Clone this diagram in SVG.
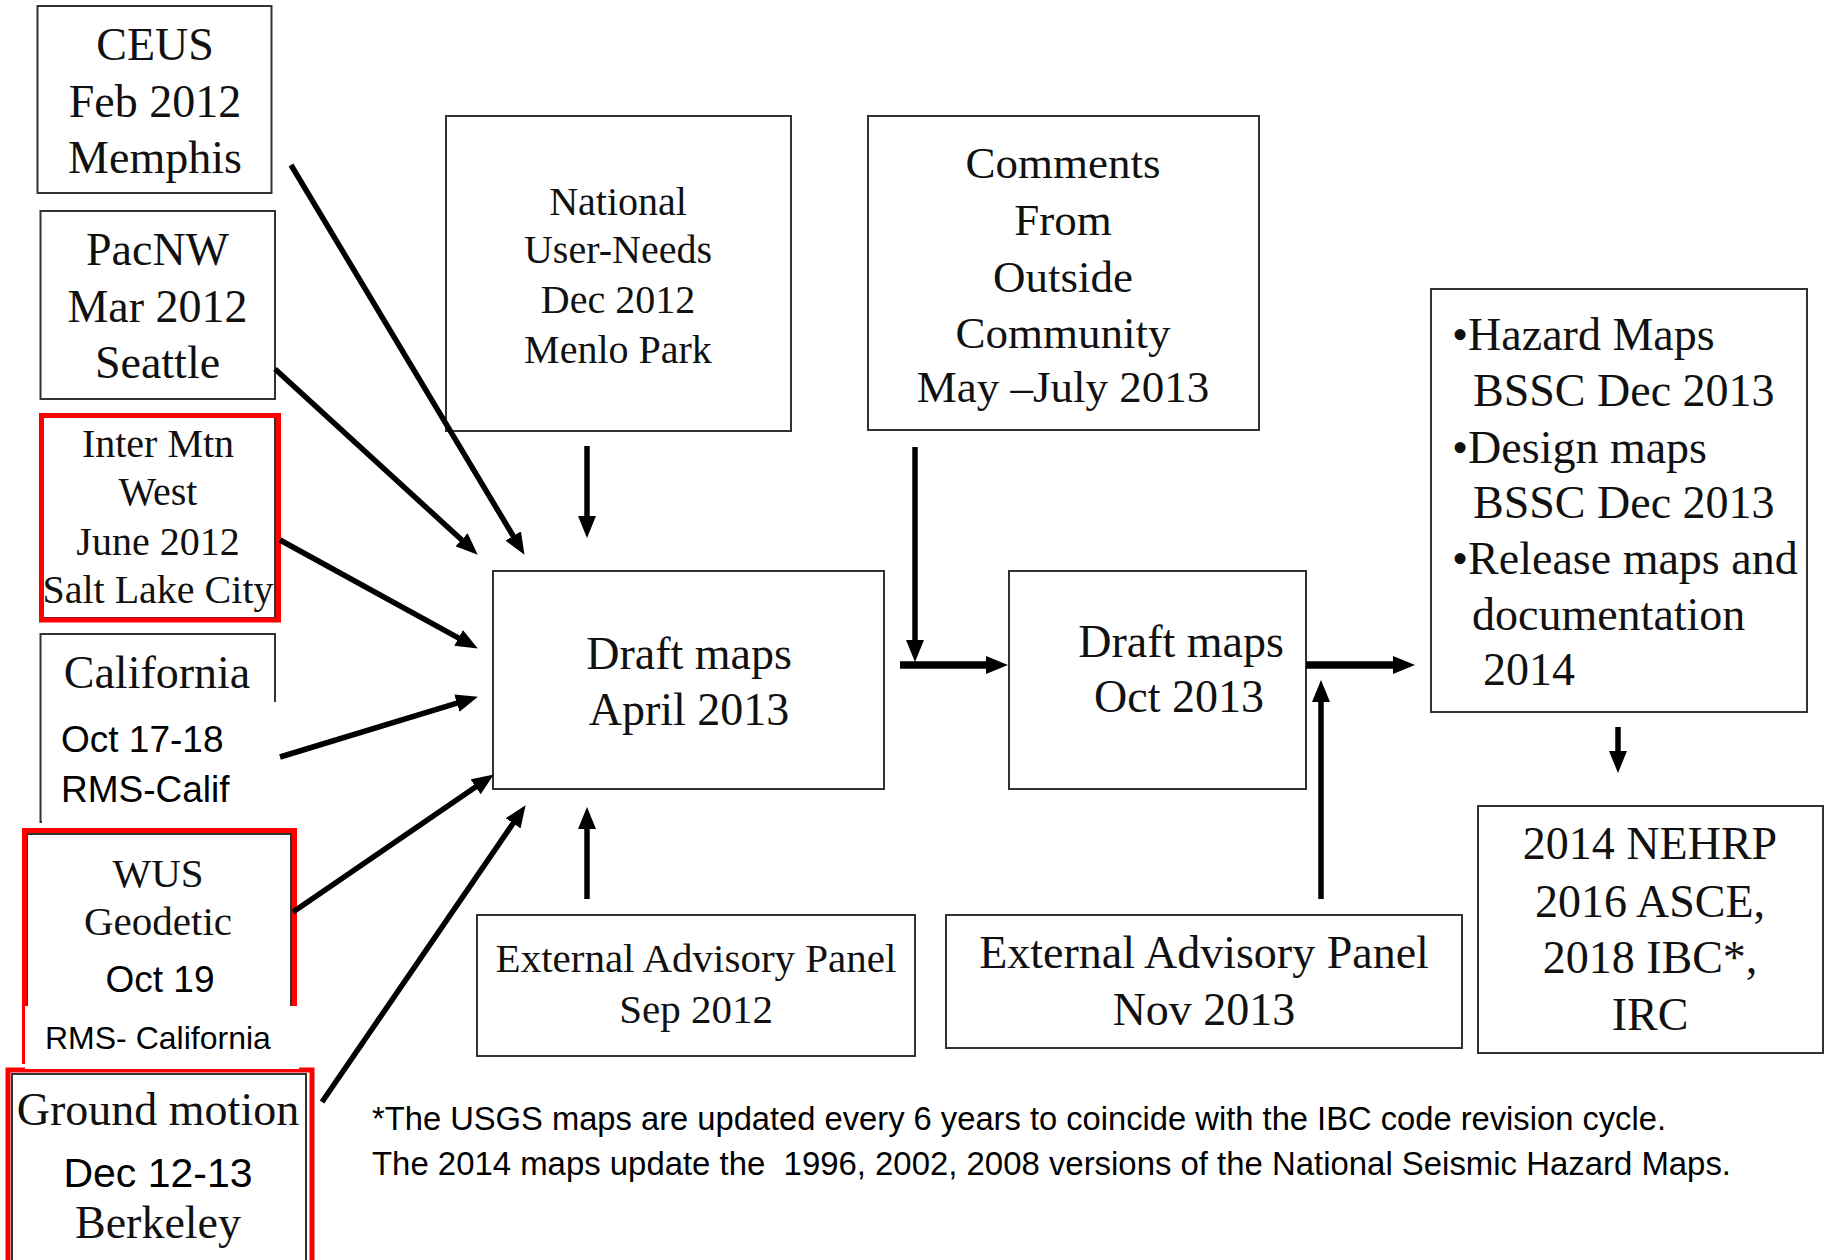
<svg xmlns="http://www.w3.org/2000/svg" width="1824" height="1260" viewBox="0 0 1824 1260">
<style>
.box{fill:#fff;stroke:#333;stroke-width:2}
.red{fill:none;stroke:#ff0000;stroke-width:5}
.patch{fill:#fff;stroke:none}
.serif{font-family:"Liberation Serif","Times New Roman",serif;fill:#111}
.sans{font-family:"Liberation Sans",Arial,sans-serif;fill:#000}
.c{text-anchor:middle}
.arrow{stroke:#000;stroke-width:5.5;fill:none;marker-end:url(#ah)}
.thick{stroke-width:7.5}
</style>
<defs>
<marker id="ah" viewBox="0 0 22 18" markerWidth="22" markerHeight="18" refX="7" refY="9" orient="auto" markerUnits="userSpaceOnUse">
<path d="M0,0 L22,9 L0,18 z" fill="#000"/>
</marker>
</defs>
<rect width="1824" height="1260" fill="#fff"/>

<g id="ceus">
<rect class="box" x="37.5" y="6" width="234" height="187"/>
<text class="serif c" font-size="46"><tspan x="155" y="60">CEUS</tspan><tspan x="155" y="117">Feb 2012</tspan><tspan x="155" y="173">Memphis</tspan></text>
</g>

<g id="pacnw">
<rect class="box" x="40.5" y="211" width="234.5" height="188"/>
<text class="serif c" font-size="46"><tspan x="157.5" y="265">PacNW</tspan><tspan x="157.5" y="322">Mar 2012</tspan><tspan x="157.5" y="378">Seattle</tspan></text>
</g>

<g id="intermtn">
<rect class="box" x="41" y="415" width="234" height="203"/>
<rect class="red" x="41.5" y="415.5" width="237" height="204.5"/>
<text class="serif c" font-size="40"><tspan x="158" y="457">Inter Mtn</tspan><tspan x="158" y="505">West</tspan><tspan x="158" y="555">June 2012</tspan><tspan x="158" y="603">Salt Lake City</tspan></text>
</g>

<g id="california">
<rect class="box" x="40.5" y="634" width="234.5" height="188"/>
<rect class="patch" x="42" y="702" width="240" height="124"/>
<text class="serif c" font-size="46" x="157" y="688">California</text>
<text class="sans" font-size="37"><tspan x="61" y="752">Oct 17-18</tspan><tspan x="61" y="802">RMS-Calif</tspan></text>
</g>

<g id="wus">
<rect class="box" x="27" y="834" width="264" height="230"/>
<rect class="red" x="24.5" y="830.5" width="270" height="231"/>
</g>

<g id="groundmotion">
<rect class="box" x="12" y="1074" width="294" height="200"/>
<rect class="red" x="8" y="1070" width="304" height="210"/>
<text class="serif c" font-size="46"><tspan x="158" y="1125">Ground motion</tspan><tspan x="158" y="1238">Berkeley</tspan></text>
<text class="sans c" font-size="41" x="158" y="1187">Dec 12-13</text>
</g>

<g id="wus-text">
<rect class="patch" x="25" y="1006" width="274" height="63"/>
<text class="serif c" font-size="41"><tspan x="158" y="887">WUS</tspan><tspan x="158" y="935">Geodetic</tspan></text>
<text class="sans c" font-size="37" x="160" y="992">Oct 19</text>
<text class="sans" font-size="32" x="45" y="1049">RMS- California</text>
</g>

<g id="national">
<rect class="box" x="446" y="116" width="345" height="315"/>
<text class="serif c" font-size="40"><tspan x="618" y="215">National</tspan><tspan x="618" y="263">User-Needs</tspan><tspan x="618" y="313">Dec 2012</tspan><tspan x="618" y="363">Menlo Park</tspan></text>
</g>

<g id="comments">
<rect class="box" x="868" y="116" width="391" height="314"/>
<text class="serif c" font-size="45"><tspan x="1063" y="178">Comments</tspan><tspan x="1063" y="235">From</tspan><tspan x="1063" y="292">Outside</tspan><tspan x="1063" y="348">Community</tspan><tspan x="1063" y="402">May –July 2013</tspan></text>
</g>

<g id="draft-april">
<rect class="box" x="493" y="571" width="391" height="218"/>
<text class="serif c" font-size="46"><tspan x="689" y="669">Draft maps</tspan><tspan x="689" y="725">April 2013</tspan></text>
</g>

<g id="draft-oct">
<rect class="box" x="1009" y="571" width="297" height="218"/>
<text class="serif c" font-size="46"><tspan x="1181" y="657">Draft maps</tspan><tspan x="1179" y="712">Oct 2013</tspan></text>
</g>

<g id="products">
<rect class="box" x="1431" y="289" width="376" height="423"/>
<text class="serif" font-size="46"><tspan x="1452" y="350">•Hazard Maps</tspan><tspan x="1473" y="406">BSSC Dec 2013</tspan><tspan x="1452" y="463">•Design maps</tspan><tspan x="1473" y="518">BSSC Dec 2013</tspan><tspan x="1452" y="574">•Release maps and</tspan><tspan x="1472" y="630">documentation</tspan><tspan x="1483" y="685">2014</tspan></text>
</g>

<g id="codes">
<rect class="box" x="1478" y="806" width="345" height="247"/>
<text class="serif c" font-size="46"><tspan x="1650" y="859">2014 NEHRP</tspan><tspan x="1650" y="917">2016 ASCE,</tspan><tspan x="1650" y="973">2018 IBC*,</tspan><tspan x="1650" y="1030">IRC</tspan></text>
</g>

<g id="eap-sep">
<rect class="box" x="477" y="915" width="438" height="141"/>
<text class="serif c" font-size="41"><tspan x="696" y="972">External Advisory Panel</tspan><tspan x="696" y="1023">Sep 2012</tspan></text>
</g>

<g id="eap-nov">
<rect class="box" x="946" y="915" width="516" height="133"/>
<text class="serif c" font-size="46"><tspan x="1204" y="968">External Advisory Panel</tspan><tspan x="1204" y="1025">Nov 2013</tspan></text>
</g>

<g id="connectors">
<line class="arrow" x1="291" y1="165" x2="516.8" y2="542"/>
<line class="arrow" x1="275" y1="369" x2="466.7" y2="544.5"/>
<line class="arrow" x1="280" y1="540" x2="464.7" y2="641.3"/>
<line class="arrow" x1="280" y1="757" x2="463.6" y2="701.1"/>
<line class="arrow" x1="293" y1="912" x2="481.4" y2="782.9"/>
<line class="arrow" x1="322" y1="1102" x2="517.1" y2="817.5"/>
<line class="arrow" x1="587" y1="446" x2="587" y2="523"/>
<line class="arrow" x1="587" y1="899" x2="587" y2="822"/>
<line class="arrow" x1="1321" y1="899" x2="1321" y2="695"/>
<line class="arrow" x1="915" y1="447" x2="915" y2="647"/>
<line class="arrow thick" x1="900" y1="665" x2="993" y2="665"/>
<line class="arrow thick" x1="1306" y1="665" x2="1400" y2="665"/>
<line class="arrow" x1="1618" y1="727" x2="1618" y2="758"/>
</g>

<g id="footnote">
<text class="sans" font-size="33" x="372" y="1130" textLength="1294" lengthAdjust="spacingAndGlyphs">*The USGS maps are updated every 6 years to coincide with the IBC code revision cycle.</text>
<text class="sans" font-size="33" x="372" y="1175" textLength="1359" lengthAdjust="spacingAndGlyphs" style="white-space:pre">The 2014 maps update the  1996, 2002, 2008 versions of the National Seismic Hazard Maps.</text>
</g>
</svg>
